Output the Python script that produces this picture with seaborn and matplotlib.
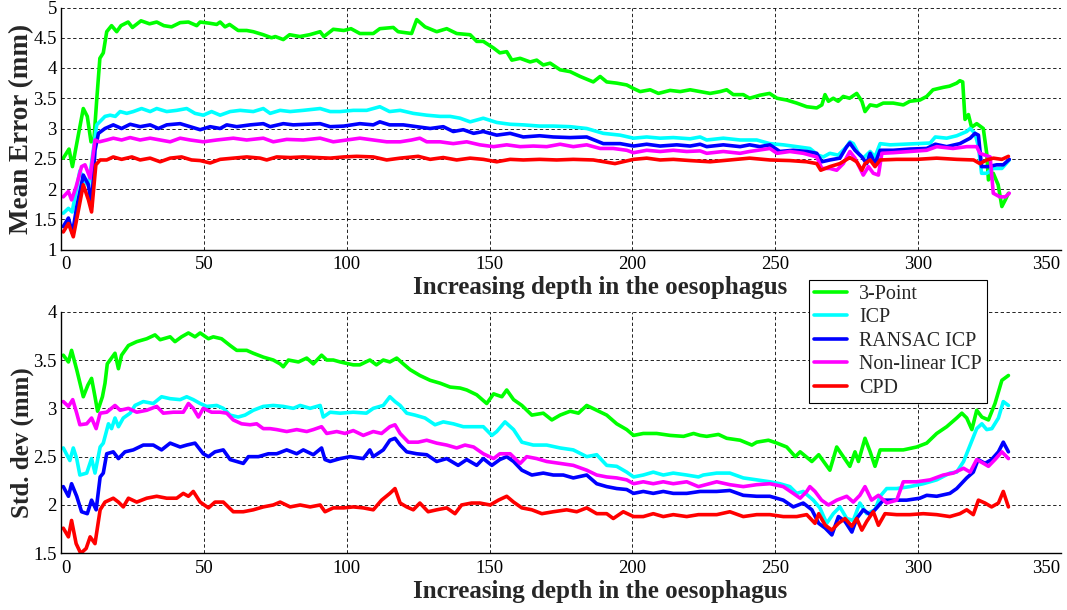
import matplotlib
matplotlib.use("Agg")
import matplotlib.pyplot as plt
import matplotlib.transforms as mtransforms
import pandas as pd
import seaborn as sns
from matplotlib.lines import Line2D
from matplotlib.ticker import FormatStrFormatter

# ---------------- data (depth, value) ----------------
methods = ["3-Point", "ICP", "RANSAC ICP", "Non-linear ICP", "CPD"]
colors = ["#00ff00", "#00ffff", "#0000ff", "#ff00ff", "#ff0000"]

xticks = [0, 50, 100, 150, 200, 250, 300, 350]
mean_yticks = [1, 1.5, 2, 2.5, 3, 3.5, 4, 4.5, 5]
std_yticks = [1.5, 2, 2.5, 3, 3.5, 4]

mean_3point = [(0.8,2.51),(2.8,2.66),(4,2.37),(7.8,3.33),(9.2,3.2),(10.5,2.78),(11.5,2.8),(12.5,3.47),(13.6,4.16),(14.8,4.25),(16,4.6),(17.7,4.7),(19.5,4.6),(21,4.7),(23.5,4.76),(25,4.67),(28,4.78),(31,4.73),(33.5,4.76),(36,4.7),(38.7,4.68),(41.7,4.75),(44.6,4.76),(47.5,4.7),(48.7,4.76),(52,4.74),(54.5,4.72),(55.7,4.76),(57.4,4.68),(59,4.72),(62,4.62),(65,4.62),(67.3,4.6),(70.8,4.55),(73.7,4.5),(75,4.52),(77.8,4.47),(80,4.55),(83.6,4.52),(87,4.55),(90.7,4.6),(92,4.52),(95.3,4.64),(99,4.62),(101.5,4.65),(104.6,4.57),(109.3,4.57),(111.6,4.65),(116.3,4.67),(118,4.6),(122.7,4.57),(124.5,4.8),(127.4,4.68),(131.5,4.6),(135,4.65),(138.5,4.57),(143.2,4.55),(145.5,4.44),(147.8,4.44),(151.4,4.33),(153.6,4.25),(156,4.27),(157.8,4.13),(160.7,4.16),(164.2,4.1),(166.5,4.13),(168.8,4.05),(171.2,4.08),(174.7,3.97),(178.2,3.94),(181.7,3.86),(186.3,3.77),(188.7,3.86),(191,3.77),(194.5,3.75),(198,3.72),(200.4,3.66),(202.7,3.61),(206.2,3.64),(209.1,3.58),(213.2,3.63),(216.7,3.61),(220.2,3.64),(223.7,3.61),(227.2,3.58),(230.7,3.61),(233,3.64),(235.3,3.56),(238.8,3.56),(241,3.5),(244.6,3.55),(248,3.58),(250.6,3.5),(254,3.47),(257.5,3.42),(261,3.36),(264.5,3.34),(266.3,3.39),(267.4,3.56),(268.6,3.45),(270.3,3.5),(272,3.45),(273.8,3.53),(276,3.5),(278.5,3.58),(280.3,3.45),(281.4,3.28),(283.2,3.39),(285.5,3.37),(287.8,3.42),(291.3,3.42),(294.8,3.39),(297.1,3.45),(300.6,3.47),(303,3.53),(305.2,3.64),(308.8,3.68),(311,3.7),(313.5,3.75),(314.6,3.79),(315.6,3.77),(316.4,3.15),(317.6,3.23),(318.7,3.02),(320.5,3.08),(322.8,3.0),(324,2.59),(324.6,2.15),(326.3,2.26),(328,2.07),(329.3,1.71),(330.5,1.82),(331.6,1.93)]
mean_icp = [(0.8,1.6),(2.6,1.68),(3.9,1.62),(4.9,1.87),(6.6,2.3),(8,2.15),(9.6,2.05),(11.3,2.64),(12.5,3.06),(15.4,3.2),(17.2,3.22),(19,3.2),(20.7,3.28),(23,3.25),(25.3,3.28),(28.2,3.33),(31.2,3.28),(33.5,3.33),(37,3.28),(40.5,3.3),(44,3.33),(46.9,3.25),(49.8,3.22),(52.7,3.28),(55.7,3.22),(59.2,3.28),(62.7,3.3),(67.3,3.28),(70.8,3.33),(73.2,3.25),(76.7,3.3),(80.2,3.28),(84.8,3.3),(90.7,3.33),(94.2,3.28),(97.7,3.28),(102.3,3.3),(107,3.3),(111.6,3.36),(115,3.28),(118.7,3.3),(123.3,3.25),(128,3.22),(132.7,3.2),(136.2,3.2),(139.7,3.17),(143.2,3.11),(147.8,3.17),(152.5,3.1),(157.2,3.07),(161.8,3.06),(167.5,3.04),(172.3,3.04),(178.2,3.03),(184,3.0),(189.8,2.92),(195.7,2.89),(200.4,2.84),(205,2.86),(209.7,2.84),(214.3,2.85),(220.2,2.83),(223.7,2.86),(226,2.81),(231.8,2.84),(237.7,2.81),(243.5,2.81),(248.1,2.75),(252.8,2.73),(257.5,2.7),(262.1,2.67),(265,2.56),(266.8,2.53),(269.1,2.59),(272,2.56),(275,2.7),(276.1,2.78),(277.3,2.75),(279.1,2.59),(280.8,2.51),(283.2,2.62),(284.9,2.53),(286.7,2.75),(290.2,2.73),(294.8,2.74),(299.5,2.75),(304.2,2.76),(306,2.86),(310,2.84),(313.5,2.88),(317,2.95),(318.2,3.0),(319.9,2.92),(321.1,2.7),(322.2,2.26),(324,2.26),(326.3,2.34),(329.3,2.34),(331.9,2.48)]
mean_ransac = [(0.8,1.38),(2.6,1.52),(4,1.27),(5.5,1.7),(7.8,2.23),(9.6,2.07),(10.7,1.71),(11.9,2.64),(13.1,2.92),(15.4,3.0),(18.3,3.06),(21.2,3.0),(24.2,3.07),(27.7,3.03),(31.2,3.06),(34.1,3.0),(37,3.06),(41.7,3.08),(45.2,3.03),(48.7,2.98),(52.2,3.03),(55.7,3.0),(58,3.06),(61.5,3.03),(66.2,3.06),(70.8,3.08),(73.2,3.03),(77.8,3.08),(81.3,3.06),(86,3.07),(90.7,3.08),(94.2,3.03),(99,3.04),(104.6,3.08),(109.3,3.06),(111.6,3.11),(115,3.06),(119.8,3.06),(124.5,3.03),(129.2,3.0),(133.8,3.03),(137.3,2.95),(140.8,2.98),(144.4,2.92),(147.8,2.95),(152.5,2.89),(157.2,2.92),(161.8,2.86),(167.5,2.88),(172.3,2.86),(178.2,2.85),(184,2.86),(189.8,2.75),(195.7,2.75),(200.4,2.71),(205,2.74),(209.7,2.71),(215.5,2.73),(220.2,2.71),(223.7,2.74),(226,2.7),(231.8,2.73),(237.7,2.7),(241,2.73),(244.6,2.7),(248.1,2.73),(251.6,2.62),(256.3,2.64),(261,2.62),(264.5,2.59),(266.3,2.45),(269.1,2.48),(272.6,2.51),(275,2.7),(276.1,2.76),(277.9,2.64),(280.3,2.53),(282,2.42),(283.2,2.59),(284.9,2.42),(286.7,2.64),(291.3,2.64),(297.1,2.66),(303,2.67),(306,2.74),(310,2.7),(314.6,2.75),(318.2,2.84),(319.9,2.92),(321.1,2.89),(322.2,2.37),(324.6,2.37),(327.5,2.4),(329.8,2.4),(331.9,2.49)]
mean_nonlinear = [(0.8,1.87),(2.6,1.96),(3.7,1.82),(5.3,2.04),(7.2,2.37),(8.4,2.4),(10.2,2.18),(11.9,2.81),(13.4,2.78),(16,2.81),(18.3,2.84),(21.2,2.81),(24.2,2.85),(27.7,2.81),(31.2,2.84),(34.7,2.81),(38.2,2.78),(41.7,2.84),(45.2,2.81),(49.8,2.78),(54.5,2.81),(60.3,2.84),(65,2.81),(70.8,2.84),(74.3,2.78),(79,2.82),(84.8,2.81),(90.7,2.84),(95.3,2.78),(100,2.81),(104.6,2.84),(109.3,2.81),(114,2.78),(118.7,2.78),(122.7,2.81),(125.6,2.84),(128,2.78),(132.7,2.78),(137.3,2.75),(142,2.78),(146.6,2.73),(151.4,2.7),(156,2.73),(160.7,2.7),(165.3,2.71),(170,2.7),(174.7,2.74),(179.3,2.7),(184,2.73),(188.7,2.67),(193.3,2.67),(198,2.64),(200.4,2.6),(205,2.64),(209.7,2.62),(214.3,2.64),(219,2.62),(223.7,2.63),(226,2.59),(231.8,2.62),(237.7,2.59),(241,2.62),(248.1,2.67),(250.6,2.59),(255.1,2.62),(259.8,2.59),(264.5,2.53),(266.3,2.34),(269.1,2.34),(271.5,2.31),(273.8,2.42),(276.1,2.62),(277.9,2.51),(280.8,2.23),(282.6,2.37),(284.3,2.26),(286.1,2.23),(287.3,2.59),(291.3,2.6),(297.1,2.62),(303,2.64),(306.5,2.7),(312.2,2.67),(317,2.7),(320.5,2.7),(321.6,2.59),(325.2,2.53),(326.3,1.93),(328.6,1.87),(330.5,1.87),(331.9,1.93)]
mean_cpd = [(0.8,1.29),(2.6,1.43),(4.3,1.21),(5.9,1.6),(7.8,2.07),(9.6,1.82),(10.7,1.62),(12.2,2.4),(13.7,2.48),(16,2.48),(18.3,2.53),(21.2,2.49),(24.8,2.53),(27.7,2.48),(31.2,2.51),(34.7,2.45),(38.2,2.51),(42.2,2.53),(45.7,2.48),(48.7,2.47),(52.2,2.43),(55.7,2.49),(60.3,2.51),(65,2.53),(69.7,2.51),(72,2.48),(75.5,2.53),(80.2,2.52),(84.8,2.53),(89.5,2.52),(94.2,2.51),(99,2.53),(103.5,2.54),(109.3,2.53),(114,2.48),(118.7,2.51),(125,2.54),(129.2,2.49),(133.8,2.52),(138.5,2.48),(143.2,2.51),(147.8,2.49),(152.5,2.45),(157.2,2.49),(161.8,2.48),(167.5,2.49),(173.5,2.48),(179.3,2.49),(186.3,2.48),(193.9,2.42),(200.4,2.49),(205,2.51),(209.7,2.48),(214.3,2.49),(220.2,2.47),(227.2,2.45),(234.1,2.48),(241,2.51),(248.1,2.48),(255.1,2.47),(261,2.45),(264.5,2.42),(265.9,2.31),(269.1,2.37),(272.6,2.42),(276.1,2.52),(278.5,2.45),(280.3,2.31),(281.4,2.42),(283.2,2.48),(284.9,2.37),(286.7,2.48),(292.5,2.49),(299.5,2.49),(306.5,2.51),(313.5,2.49),(319.4,2.48),(321.6,2.42),(324,2.48),(326.3,2.51),(329.3,2.49),(331.6,2.54)]

std_3point = [(0.8,3.55),(2.6,3.48),(3.7,3.6),(5.5,3.4),(7.8,3.12),(9.4,3.24),(10.7,3.31),(11.9,3.12),(12.8,2.97),(14.5,3.12),(15.4,3.26),(16.2,3.46),(18.9,3.57),(20.1,3.41),(21.2,3.55),(23.6,3.65),(26.5,3.69),(30,3.72),(32.9,3.76),(34.7,3.71),(38.2,3.74),(39.9,3.69),(42.2,3.74),(44.6,3.78),(46.9,3.74),(48.7,3.78),(51.6,3.72),(53.3,3.74),(56.2,3.72),(59.2,3.65),(61.5,3.6),(65,3.6),(67.3,3.57),(70.8,3.53),(74.3,3.5),(76.7,3.46),(77.8,3.43),(79.6,3.5),(83.1,3.48),(86,3.52),(88.3,3.46),(91.2,3.55),(93,3.5),(95.3,3.5),(97.7,3.48),(102.3,3.45),(104.6,3.45),(108.1,3.5),(110.4,3.45),(112.8,3.5),(115.1,3.48),(117.5,3.52),(119.8,3.46),(122.2,3.4),(125.6,3.34),(129.2,3.29),(132.7,3.26),(136.2,3.22),(139.7,3.21),(142,3.19),(145.5,3.14),(149,3.05),(151.4,3.15),(154.3,3.12),(156,3.19),(158.4,3.09),(161.3,3.03),(164.8,2.93),(168.8,2.95),(171.8,2.88),(174.7,2.93),(178.2,2.97),(181.1,2.95),(184,3.03),(187.5,2.98),(191,2.93),(194.5,2.84),(198,2.78),(200.4,2.72),(203.8,2.74),(208.5,2.74),(213.2,2.72),(217.9,2.71),(221.4,2.74),(223.7,2.72),(226,2.71),(230.1,2.73),(233,2.69),(237.7,2.67),(241.8,2.62),(243.5,2.65),(247.6,2.67),(250.6,2.64),(254,2.6),(257,2.5),(258.7,2.55),(262.8,2.45),(265.2,2.52),(269.1,2.36),(271.5,2.6),(273.8,2.5),(276.1,2.4),(277.9,2.55),(279.1,2.45),(281.4,2.69),(283.2,2.55),(284.9,2.4),(286.7,2.57),(290.2,2.57),(294.8,2.57),(299.5,2.6),(303,2.64),(306.5,2.74),(310,2.81),(313.5,2.9),(315.3,2.95),(317,2.9),(318.8,2.78),(320.5,2.98),(322.3,2.91),(324.6,2.88),(326.9,3.05),(329.3,3.29),(331.6,3.34)]
std_icp = [(0.8,2.59),(3.1,2.46),(4.3,2.59),(5.5,2.48),(6.6,2.31),(9,2.33),(10.7,2.48),(11.9,2.33),(13.7,2.6),(14.8,2.64),(16.6,2.84),(17.7,2.79),(18.9,2.9),(20.1,2.81),(21.8,2.9),(24.2,2.95),(25.9,3.03),(28.8,3.07),(32.3,3.05),(35.2,3.12),(38.2,3.1),(41.7,3.09),(44,3.12),(46.3,3.09),(48.7,3.05),(51,3.02),(54.5,3.03),(56.8,3.0),(59.2,2.93),(62,2.91),(64.4,2.93),(67.3,2.98),(70.8,3.02),(74.3,3.03),(77.8,3.02),(81.3,3.0),(83.7,3.03),(87.2,3.0),(90.7,3.03),(91.8,2.91),(94.2,2.96),(97.7,2.95),(102.3,2.96),(106.9,2.95),(109.3,3.0),(112.8,3.03),(115.1,3.12),(116.9,3.07),(118.7,3.03),(121,2.95),(123.9,2.93),(127.4,2.9),(130.9,2.83),(133.8,2.86),(137.3,2.84),(140.8,2.81),(144.4,2.81),(147.8,2.81),(150.8,2.72),(152.5,2.76),(155.4,2.86),(158.4,2.78),(161.3,2.65),(165.3,2.62),(170,2.62),(174.7,2.59),(179.3,2.57),(184,2.5),(187.5,2.52),(191,2.41),(194.5,2.4),(198,2.34),(200.4,2.29),(203.8,2.31),(207.3,2.34),(210.8,2.31),(214.3,2.33),(219,2.31),(223.1,2.29),(224.8,2.31),(229.5,2.33),(234.1,2.33),(238.8,2.28),(243.5,2.26),(248.1,2.24),(251.6,2.22),(255.1,2.19),(257.5,2.12),(259.8,2.14),(263.3,2.05),(265.6,1.97),(268,1.81),(270.3,1.91),(272.6,1.98),(275,1.86),(277.3,1.84),(279.6,2.02),(282,1.91),(284.9,1.95),(286.7,2.09),(289,2.17),(292.5,2.17),(297.1,2.19),(301.8,2.22),(306.5,2.26),(311.1,2.33),(313.5,2.34),(315.9,2.45),(318.2,2.62),(320.5,2.79),(322.3,2.84),(324,2.78),(325.8,2.79),(328.1,2.9),(329.8,3.07),(331.6,3.03)]
std_ransac = [(0.8,2.19),(2.6,2.09),(3.7,2.22),(5.5,2.09),(7.2,1.93),(9.2,1.91),(10.7,2.05),(12.3,1.95),(13.7,2.29),(14.8,2.33),(16,2.53),(18.3,2.55),(20.1,2.48),(22.4,2.55),(25.3,2.57),(28.8,2.62),(32.3,2.62),(35.2,2.57),(38.2,2.64),(41.7,2.6),(44,2.62),(46.9,2.64),(49.8,2.53),(51.6,2.5),(53.9,2.55),(56.8,2.57),(59.2,2.47),(61.5,2.45),(63.8,2.43),(65.6,2.5),(69.1,2.5),(72.6,2.53),(75.5,2.53),(79,2.57),(82.5,2.53),(84.8,2.57),(88.3,2.52),(91.2,2.59),(92.4,2.47),(94.2,2.45),(97.7,2.48),(101.2,2.5),(105.8,2.48),(108.1,2.57),(109.3,2.5),(112.8,2.57),(115.1,2.67),(116.9,2.69),(118.7,2.62),(121,2.55),(124.5,2.53),(128,2.52),(131.5,2.45),(135,2.48),(139,2.41),(142,2.47),(145.5,2.41),(147.8,2.48),(150.8,2.41),(153.6,2.47),(156,2.5),(158.4,2.45),(161.3,2.36),(164.8,2.31),(168.8,2.33),(172.3,2.31),(175.8,2.31),(179.3,2.28),(184,2.31),(187.5,2.22),(191,2.19),(194.5,2.17),(198,2.16),(200.4,2.12),(203.8,2.14),(207.3,2.12),(210.8,2.14),(214.3,2.12),(219,2.12),(223.7,2.14),(229.5,2.14),(234.1,2.15),(238.8,2.1),(243.5,2.09),(248.1,2.09),(252.8,2.05),(256.3,1.98),(259.8,2.02),(262.8,1.95),(265.2,1.81),(267.5,1.76),(269.8,1.69),(272.1,1.88),(274.4,1.83),(276.8,1.72),(278.5,1.86),(280.8,1.95),(283.2,1.9),(285.5,1.97),(287.8,2.05),(291.3,2.05),(296,2.05),(300.6,2.07),(303,2.1),(306.5,2.09),(311.1,2.12),(313.5,2.17),(317,2.28),(319.3,2.34),(321,2.47),(323.4,2.43),(325.7,2.47),(328.1,2.55),(329.8,2.65),(331.6,2.55)]
std_nonlinear = [(0.8,3.07),(2.6,3.02),(4.1,3.09),(5.5,2.95),(6.6,2.83),(9,2.84),(10.7,2.9),(12.3,2.79),(13.7,2.95),(16,2.96),(18.9,3.03),(20.7,2.98),(23.6,3.0),(26.5,2.96),(30,2.98),(33.5,3.02),(35.8,2.95),(39.3,2.96),(42.8,2.96),(44.6,3.05),(46.3,3.0),(48.1,2.91),(49.8,3.0),(52.7,2.96),(55.7,2.96),(58,2.95),(60.3,2.88),(63.2,2.84),(66.2,2.83),(68.5,2.84),(70.8,2.79),(73.2,2.79),(75.5,2.78),(79,2.76),(82.5,2.78),(86,2.76),(88.3,2.78),(91.2,2.81),(93,2.74),(96.5,2.76),(99.4,2.74),(102.3,2.77),(105.8,2.72),(109.3,2.76),(112.2,2.74),(115.1,2.81),(116.9,2.83),(118.7,2.74),(121.6,2.65),(125,2.65),(128,2.67),(131.5,2.64),(135,2.62),(138.5,2.59),(141.4,2.62),(144.4,2.6),(147.8,2.53),(151.4,2.48),(153.6,2.53),(157.2,2.53),(160.7,2.43),(163,2.5),(166.5,2.48),(170,2.45),(174.7,2.43),(179.3,2.41),(184,2.36),(187.5,2.31),(191,2.29),(194.5,2.28),(198,2.26),(200.4,2.22),(203.8,2.24),(207.3,2.22),(210.8,2.24),(214.3,2.22),(219,2.24),(223.1,2.19),(229.5,2.24),(234.1,2.21),(238.8,2.19),(243.5,2.21),(248.1,2.22),(252.8,2.19),(256.3,2.12),(258.7,2.07),(261,2.14),(262.1,2.19),(263.9,2.14),(266.2,2.05),(268.6,2.0),(271.5,2.05),(275,2.09),(277.3,2.03),(279.6,2.1),(281.4,2.19),(283.7,2.05),(286.1,2.1),(289,2.02),(292.5,2.05),(294.8,2.24),(299.5,2.24),(304.2,2.26),(308.8,2.31),(312.3,2.33),(315.9,2.38),(318.2,2.34),(320.5,2.47),(322.9,2.43),(324.6,2.4),(326.9,2.47),(329.3,2.55),(331.6,2.48)]
std_cpd = [(0.8,1.76),(2.6,1.67),(3.7,1.84),(5.3,1.6),(6.9,1.5),(8.8,1.55),(10.2,1.67),(11.9,1.6),(13.7,1.95),(15.4,2.03),(18.3,2.07),(20.1,2.03),(21.8,1.98),(23.6,2.07),(26.5,2.03),(30,2.07),(33.5,2.09),(37,2.07),(40.5,2.07),(42.8,2.12),(44.6,2.09),(46.3,2.14),(48.7,2.03),(51.6,1.97),(53.9,2.03),(56.8,2.03),(60.3,1.93),(63.8,1.93),(67.3,1.95),(70.8,1.98),(74.3,2.0),(76.7,2.03),(80.2,1.98),(83.7,2.0),(87.2,1.98),(90.7,2.0),(92.4,1.93),(95.3,1.97),(99,1.97),(102.3,1.98),(105.8,1.97),(109.3,1.95),(112.2,2.05),(115.1,2.12),(116.9,2.17),(118.7,2.02),(121,1.98),(123.3,1.95),(125.6,2.02),(128.5,1.93),(131.5,1.95),(135,1.97),(137.9,1.91),(140.2,2.0),(143.7,2.02),(146.6,2.02),(150.2,2.0),(153.1,2.05),(156,2.09),(158.4,2.03),(161.3,1.97),(164.8,1.95),(168.3,1.91),(172.3,1.93),(177,1.95),(180.5,1.93),(184,1.97),(187.5,1.91),(191,1.91),(193.3,1.86),(196.8,1.93),(200.4,1.88),(203.8,1.88),(207.3,1.91),(210.8,1.88),(214.3,1.9),(219,1.88),(223.1,1.9),(229.5,1.9),(234.1,1.93),(238.8,1.88),(243.5,1.9),(248.1,1.9),(252.8,1.88),(257.5,1.88),(261,1.9),(263.9,1.81),(265.2,1.91),(267.5,1.79),(269.8,1.74),(272.1,1.81),(274.4,1.86),(276.8,1.78),(278.5,1.86),(280.3,1.74),(282,1.83),(284.3,1.93),(286.1,1.79),(288.4,1.91),(292.5,1.9),(297.1,1.9),(301.8,1.91),(306.5,1.9),(311.1,1.88),(314.6,1.91),(317,1.95),(319.3,1.9),(321.1,2.05),(323.4,2.02),(325.7,1.98),(328.1,2.02),(329.8,2.14),(331.6,1.98)]

mean_series = [mean_3point, mean_icp, mean_ransac, mean_nonlinear, mean_cpd]
std_series = [std_3point, std_icp, std_ransac, std_nonlinear, std_cpd]


def long_frame(series_list):
    rows = []
    for name, pts in zip(methods, series_list):
        for x, y in pts:
            rows.append((name, x, y))
    return pd.DataFrame(rows, columns=["method", "depth", "value"])


# ---------------- style ----------------
sns.set_style("white")
plt.rcParams["font.family"] = ["Liberation Serif", "DejaVu Serif"]
plt.rcParams["axes.linewidth"] = 1.0

W, H = 1067, 610
LW = 2.6
fig = plt.figure(figsize=(W / 100, H / 100), dpi=100)
ax1 = fig.add_axes([61 / W, 1 - 249.5 / H, 1000 / W, 242 / H])
ax2 = fig.add_axes([61 / W, 1 - 553.3 / H, 1000 / W, 241.6 / H])

palette = dict(zip(methods, colors))

panels = [
    (ax1, mean_series, "Mean Error (mm)", 19.5, (1, 5), mean_yticks, 0.50),
    (ax2, std_series, "Std. dev (mm)", 18, (1.5, 4), std_yticks, 0.459),
]

for ax, series, ylabel, ylsize, ylim, yticks, ylab_y in panels:
    df = long_frame(series)
    sns.lineplot(data=df, x="depth", y="value", hue="method", hue_order=methods,
                 palette=palette, estimator=None, sort=True, linewidth=LW,
                 legend=False, ax=ax)
    ax.set_xlim(0, 350)
    ax.set_ylim(*ylim)
    ax.set_xticks(xticks)
    ax.set_yticks(yticks)
    ax.yaxis.set_major_formatter(FormatStrFormatter("%g"))
    ax.grid(True, color="black", linestyle=(0, (4, 3)), linewidth=0.6)
    ax.set_axisbelow(True)
    for s in ("top", "right"):
        ax.spines[s].set_visible(False)
    for s in ("left", "bottom"):
        ax.spines[s].set_color("black")
        ax.spines[s].set_linewidth(1.0)
    ax.tick_params(axis="both", which="major", direction="in", length=4,
                   width=0.8, colors="black", labelsize=13.5)
    ax.tick_params(axis="x", pad=5)
    ax.tick_params(axis="y", pad=3)
    ax.set_xlabel("Increasing depth in the oesophagus", fontsize=18,
                  fontweight="bold")
    ax.xaxis.set_label_coords(0.539, -0.11)
    ax.set_ylabel(ylabel, fontsize=ylsize, fontweight="bold")
    ax.yaxis.set_label_coords(-0.027, ylab_y)
    # MATLAB-like placement of the end tick labels
    xl = ax.get_xticklabels()
    xl[0].set_transform(xl[0].get_transform() +
                        mtransforms.ScaledTranslation(5 / 100, 0, fig.dpi_scale_trans))
    xl[-1].set_horizontalalignment("right")
    xl[-1].set_transform(xl[-1].get_transform() +
                         mtransforms.ScaledTranslation(-1 / 100, 0, fig.dpi_scale_trans))

handles = [Line2D([0], [0], color=c, lw=LW) for c in colors]
leg = fig.legend(handles, methods, loc="upper left",
                 bbox_to_anchor=(809 / W, 1 - 280 / H), borderaxespad=0,
                 frameon=True, fancybox=False, shadow=False, framealpha=1,
                 edgecolor="black", fontsize=14.4, handlelength=1.65,
                 handletextpad=0.6, labelspacing=0.22, borderpad=0.25)
leg.get_frame().set_linewidth(0.8)

fig.savefig("out.png", dpi=100)
